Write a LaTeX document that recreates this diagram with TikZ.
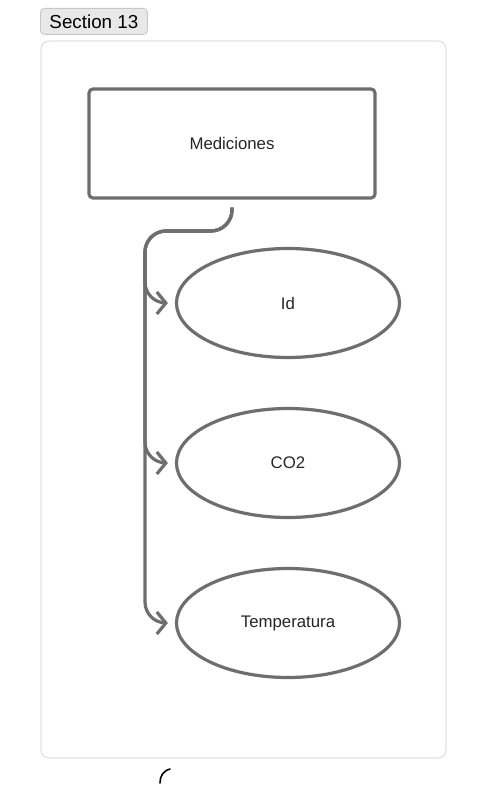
\documentclass[tikz,border=0pt]{standalone}
\usepackage{fontspec}
\setmainfont{Liberation Sans}
\usetikzlibrary{shapes.geometric,arrows.meta,calc}
\definecolor{ink}{HTML}{6E6E6E}
\definecolor{frameln}{HTML}{E2E2E2}
\definecolor{tagfill}{HTML}{E8E8E8}
\definecolor{tagln}{HTML}{C6C6C6}
\tikzset{
  entbox/.style={draw=ink, line width=3.2pt, rounded corners=4pt, minimum width=286pt, minimum height=109pt, inner sep=0pt, font=\fontsize{16.8}{20}\selectfont, text=black!85},
  attr/.style={ellipse, draw=ink, line width=3.2pt, minimum width=223pt, minimum height=109pt, inner sep=0pt, font=\fontsize{16.8}{20}\selectfont, text=black!85},
  conn/.style={draw=ink, line width=3.2pt, rounded corners=21pt, -{Straight Barb[length=9pt,width=22pt]}, shorten >=7pt},
}
\begin{document}
\begin{tikzpicture}[x=1pt,y=-1pt]
\useasboundingbox (0,0) rectangle (488,800);
\fill[white] (0,0) rectangle (488,800);
% section frame
\draw[frameln, line width=1.2pt, rounded corners=8pt] (41,41) rectangle (446,758);
\node[draw=tagln, fill=tagfill, line width=0.8pt, rounded corners=4pt, minimum width=107pt, minimum height=26pt, inner sep=0pt, font=\fontsize{18.8}{22}\selectfont, anchor=north west] (tag) at (40,8) {Section 13};
% nodes
\node[entbox] (med) at (232,143.5) {\raisebox{-2pt}{Mediciones}};
\node[attr] (id) at (288,303) {\raisebox{-2pt}{Id}};
\node[attr] (co2) at (288,463) {\raisebox{-2pt}{CO2}};
\node[attr] (temp) at (288,623) {\raisebox{-2pt}{Temperatura}};
\coordinate (src) at ($(med.south)+(0,8)$);
\coordinate (turn) at (145,231);
% connectors
\draw[conn] (src) -- (232,231) -- (turn) -- (145,303) -- (id.west);
\draw[conn] (src) -- (232,231) -- (turn) -- (145,463) -- (co2.west);
\draw[conn] (src) -- (232,231) -- (turn) -- (145,623) -- (temp.west);
% small mark
\draw[black, line width=1.6pt, line cap=round] (170,769) .. controls (163,771) and (160,776) .. (160,783);
\end{tikzpicture}
\end{document}
